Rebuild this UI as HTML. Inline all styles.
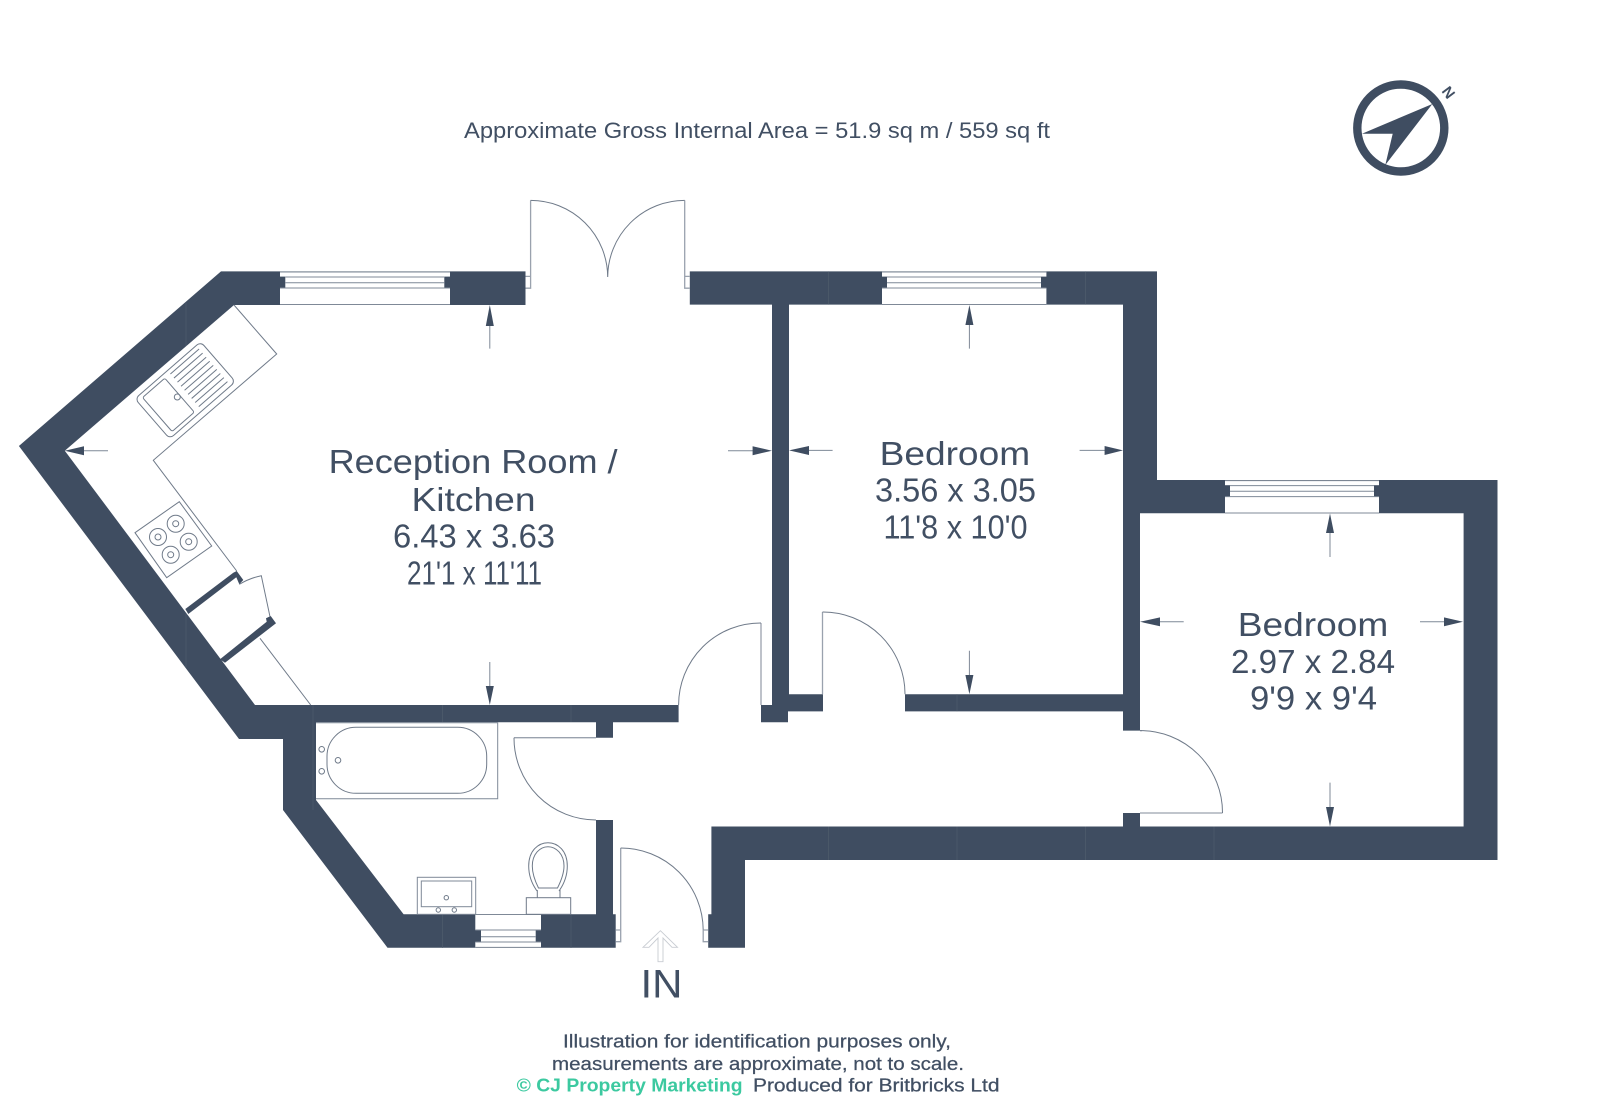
<!DOCTYPE html>
<html>
<head>
<meta charset="utf-8">
<style>
html,body{margin:0;padding:0;background:#fff}
svg{display:block}
text{font-family:"Liberation Sans",sans-serif;fill:#414f63}
.w{fill:#3f4d61}
.l{fill:none;stroke:#6f7a89;stroke-width:1}
.d{fill:none;stroke:#9aa2ae;stroke-width:1.3}
.g{fill:#fff;stroke:none}
.gl{stroke:#7f8997;stroke-width:1;fill:none}
.dim{stroke:#7f8997;stroke-width:1;fill:none}
.h{fill:#3f4d61}
.seam{stroke:#52606f;stroke-width:.6;fill:none}
.s{stroke:#414f63;stroke-width:.25}
</style>
</head>
<body>
<svg width="1600" height="1120" viewBox="0 0 1600 1120" xmlns="http://www.w3.org/2000/svg">
<rect width="1600" height="1120" fill="#fff"/>

<!-- Walls -->
<polygon class="w" points="525.5,271.4 221,271.4 18.9,446 239,739 283,739 283,810 387.5,947.7 615.7,947.7 615.7,914.3 613,914.3 613,820 596,820 596,914.3 403.6,914.3 316,800 316,722.3 596,722.3 596,737.7 613,737.7 613,722.3 678.6,722.3 678.6,705 255,705 64.8,450.7 234,305 525.5,305"/>
<polygon class="w" points="689.8,271.4 1157,271.4 1157,480 1497.5,480 1497.5,860 745,860 745,947.7 708.2,947.7 708.2,914.3 711.4,914.3 711.4,826.5 1123,826.5 1123,813 1140,813 1140,826.5 1463.6,826.5 1463.6,513.2 1140,513.2 1140,730.6 1123,730.6 1123,711.4 905,711.4 905,694.3 1123,694.3 1123,304.6 789,304.6 789,694.3 823,694.3 823,711.4 788,711.4 788,722.3 761,722.3 761,705 772,705 772,304.6 689.8,304.6"/>
<path class="seam" d="M186 303V346M186 614V667M313 705V810M442.5 705V722M571 705V722M442.5 914V948M571 914V948M828.6 271.4V304.6M1085.7 271.4V304.6M828.6 826.5V860M957 826.5V860M1085.7 826.5V860M1214 826.5V860M957 694.3V711.4"/>

<!-- Windows -->
<g>
<rect class="g" x="280" y="271.8" width="170" height="4.8"/>
<rect class="g" x="285.3" y="276.5" width="159" height="11.5"/>
<rect class="g" x="280" y="288" width="170" height="16.6"/>
<path class="gl" d="M280 272H450M285.3 277H444.3M285.3 282.7H444.3M280 288H450M280 304.5H450"/>
<rect class="g" x="882" y="271.8" width="164.4" height="4.8"/>
<rect class="g" x="887" y="276.5" width="154" height="11.5"/>
<rect class="g" x="882" y="288" width="164.4" height="16.6"/>
<path class="gl" d="M882 272H1046.4M887 277H1041M887 282.7H1041M882 288H1046.4M882 304.5H1046.4"/>
<rect class="g" x="1225" y="480.4" width="154" height="4.8"/>
<rect class="g" x="1230" y="485" width="144" height="11.5"/>
<rect class="g" x="1225" y="496.5" width="154" height="16.7"/>
<path class="gl" d="M1225 480.6H1379M1230 485.6H1374M1230 491.2H1374M1225 496.6H1379M1225 513H1379"/>
<rect class="g" x="475.3" y="914.3" width="65.7" height="15.7"/>
<rect class="g" x="481" y="930" width="54.7" height="12"/>
<rect class="g" x="475.3" y="942" width="65.7" height="5.7"/>
<path class="gl" d="M475.3 914.5H541M475.3 930H541M481 936.7H535.7M475.3 942H541M475.3 947.4H541"/>
</g>

<!-- Doors -->
<path class="d" d="M525.5 276.4H530.6M525.5 288.2H530.6V200.4"/>
<path class="d" d="M689.8 276.4H684.7M689.8 288.2H684.7V200.4"/>
<path class="l" d="M530.6 200.4A77 77 0 0 1 607.7 277M684.7 200.4A77 77 0 0 0 607.7 277"/>
<path class="d" d="M761 705V623"/>
<path class="l" d="M761 623A82 82 0 0 0 678.6 705"/>
<path class="d" d="M822.5 694.3V612"/>
<path class="l" d="M822.5 612A82 82 0 0 1 905 694.3"/>
<path class="d" d="M1140 813H1222.5M1140 730.6H1142"/>
<path class="l" d="M1140 730.6A82 82 0 0 1 1222.5 813"/>
<path class="d" d="M596 737.7H514"/>
<path class="l" d="M514 737.7A82 82 0 0 0 596 820"/>
<path class="d" d="M615.7 930H620.7M615.7 941.7H620.7V848"/>
<path class="l" d="M620.7 848A82.5 82.5 0 0 1 703.2 930"/>
<path class="d" d="M703.2 930V941.7H708.2M703.2 930H708.2"/>

<!-- Kitchen -->
<path class="l" d="M234 305L276.7 354L153.3 460.3L236.7 571"/>
<path class="l" d="M260 638.3L310.7 705"/>
<g transform="translate(135 398.8) rotate(-41)">
<rect class="l" x="0" y="0" width="87" height="53" rx="5"/>
<rect class="l" x="6.5" y="4" width="29.5" height="45" rx="2"/>
<path class="l" d="M43 4.5H81M43 9.9H81M43 15.3H81M43 20.7H81M43 26.1H81M43 31.5H81M43 36.9H81M43 42.3H81M43 47.7H81"/>
</g>
<circle class="l" cx="177.3" cy="397" r="3"/>
<polygon class="l" points="135,532.7 179.3,501.7 211.7,546 166.7,577.7"/>
<g class="l">
<circle cx="158" cy="537" r="8.5"/><circle cx="158" cy="537" r="3"/>
<circle cx="175.7" cy="523.7" r="8.5"/><circle cx="175.7" cy="523.7" r="3"/>
<circle cx="188.7" cy="541.7" r="8.5"/><circle cx="188.7" cy="541.7" r="3"/>
<circle cx="170.7" cy="554.7" r="8.5"/><circle cx="170.7" cy="554.7" r="3"/>
</g>
<polygon class="w" points="185.3,609 233.3,572.7 236.7,571 243.3,580 239.3,584.3 236.3,577.3 188.3,614"/>
<polygon class="w" points="220,659.3 266.7,621.7 266,618.3 270.7,616 276,623.3 225,662.7"/>
<path class="l" d="M239.3 584.3Q250 578 261.3 575.7L270 616.7"/>

<!-- Bathroom -->
<path class="gl" d="M316 722.7H497.7V798.7H316"/>
<rect class="l" x="327" y="727.3" width="159.7" height="66" rx="29" ry="29"/>
<g class="l">
<circle cx="321.7" cy="749.3" r="2.8"/><circle cx="321.7" cy="771.3" r="2.8"/><circle cx="338" cy="760.3" r="2.8"/>
</g>
<rect class="gl" x="417.3" y="877.3" width="58.4" height="37"/>
<rect class="gl" x="421.3" y="881" width="50.4" height="25.7"/>
<g class="l">
<circle cx="446.3" cy="897.7" r="2.2"/><circle cx="438.3" cy="910" r="2.2"/><circle cx="454.3" cy="910" r="2.2"/>
</g>
<rect class="l" x="526.3" y="897.7" width="44.4" height="16.6"/>
<path class="l" d="M537.3 897.7V890M560 897.7V890"/>
<path class="l" d="M537 891C532 884 528.7 875 528.7 866C528.7 851 538 842.7 548 842.7C558 842.7 567.3 851 567.3 866C567.3 875 564 884 559 891"/>
<path class="l" d="M538.5 888H557.5C561 881 564 874 564 866C564 854 556 846.7 548 846.7C540 846.7 532.3 854 532.3 866C532.3 874 535 881 538.5 888Z"/>

<!-- Dimension arrows -->
<path class="dim" d="M489.8 324V348.6M489.8 662V687M84 450.7H108M728 450.7H753M809 450.4H832.6M1079.6 450.4H1105M969.4 324V348.6M969.4 650.7V675M1330 533V557M1160 621.8H1183.7M1420 621.8H1444M1330 782.6V807"/>
<polygon class="h" points="489.8,305 485.8,326 493.8,326"/>
<polygon class="h" points="489.8,705 485.8,686 493.8,686"/>
<polygon class="h" points="64.8,450.7 84,446.2 84,455.2"/>
<polygon class="h" points="772,450.7 752.6,446.2 752.6,455.2"/>
<polygon class="h" points="789,450.4 809,446 809,455"/>
<polygon class="h" points="1123,450.4 1104.6,446 1104.6,455"/>
<polygon class="h" points="969.4,305 965.4,325 973.4,325"/>
<polygon class="h" points="969.4,694.3 965.4,675 973.4,675"/>
<polygon class="h" points="1330,513.5 1326,533 1334,533"/>
<polygon class="h" points="1140,621.8 1160,617.4 1160,626.2"/>
<polygon class="h" points="1463,621.8 1444,617.4 1444,626.2"/>
<polygon class="h" points="1330,826.5 1326,807 1334,807"/>

<!-- Entrance arrow -->
<path fill="none" stroke="#c8ccd2" stroke-width=".9" d="M660.4 930.7L677.5 947.3H672L663 938V961.7H658V938L649 947.3H643Z"/>

<!-- Compass -->
<circle cx="1400.8" cy="128" r="43.5" fill="none" stroke="#3f4d61" stroke-width="8.4"/>
<polygon class="h" points="1432.3,104 1362,133.7 1392.7,133.7 1385.3,165"/>
<text x="0" y="0" font-size="15" font-weight="bold" text-anchor="middle" transform="translate(1448.7 92.3) rotate(53) translate(0 5.4)">N</text>

<!-- Text -->
<text x="464" y="137.8" font-size="22" textLength="586" lengthAdjust="spacingAndGlyphs">Approximate Gross Internal Area = 51.9 sq m / 559 sq ft</text>

<text x="328.6" y="473" font-size="33" textLength="289" lengthAdjust="spacingAndGlyphs">Reception Room /</text>
<text x="411.5" y="511" font-size="33" textLength="124" lengthAdjust="spacingAndGlyphs">Kitchen</text>
<text x="393" y="547.3" font-size="33" textLength="162" lengthAdjust="spacingAndGlyphs">6.43 x 3.63</text>
<text x="407" y="584.6" font-size="33" textLength="135" lengthAdjust="spacingAndGlyphs">21'1 x 11'11</text>

<text x="879.6" y="465" font-size="33" textLength="150.5" lengthAdjust="spacingAndGlyphs">Bedroom</text>
<text x="875" y="501.6" font-size="33" textLength="161" lengthAdjust="spacingAndGlyphs">3.56 x 3.05</text>
<text x="883.5" y="538.4" font-size="33" textLength="144" lengthAdjust="spacingAndGlyphs">11'8 x 10'0</text>

<text x="1237.8" y="636" font-size="33" textLength="150.5" lengthAdjust="spacingAndGlyphs">Bedroom</text>
<text x="1231" y="673" font-size="33" textLength="164" lengthAdjust="spacingAndGlyphs">2.97 x 2.84</text>
<text x="1250" y="709.3" font-size="33" textLength="127" lengthAdjust="spacingAndGlyphs">9'9 x 9'4</text>

<text x="640.5" y="997.3" font-size="40" textLength="42" lengthAdjust="spacingAndGlyphs">IN</text>

<text class="s" x="563" y="1047.7" font-size="18.4" textLength="388" lengthAdjust="spacingAndGlyphs">Illustration for identification purposes only,</text>
<text class="s" x="552" y="1070" font-size="18.4" textLength="412" lengthAdjust="spacingAndGlyphs">measurements are approximate, not to scale.</text>
<text x="516.6" y="1091.7" font-size="18.4" font-weight="bold" style="fill:#3cc9a0" textLength="226" lengthAdjust="spacingAndGlyphs">© CJ Property Marketing</text>
<text class="s" x="753" y="1091.7" font-size="18.4" textLength="246.5" lengthAdjust="spacingAndGlyphs">Produced for Britbricks Ltd</text>
</svg>
</body>
</html>
